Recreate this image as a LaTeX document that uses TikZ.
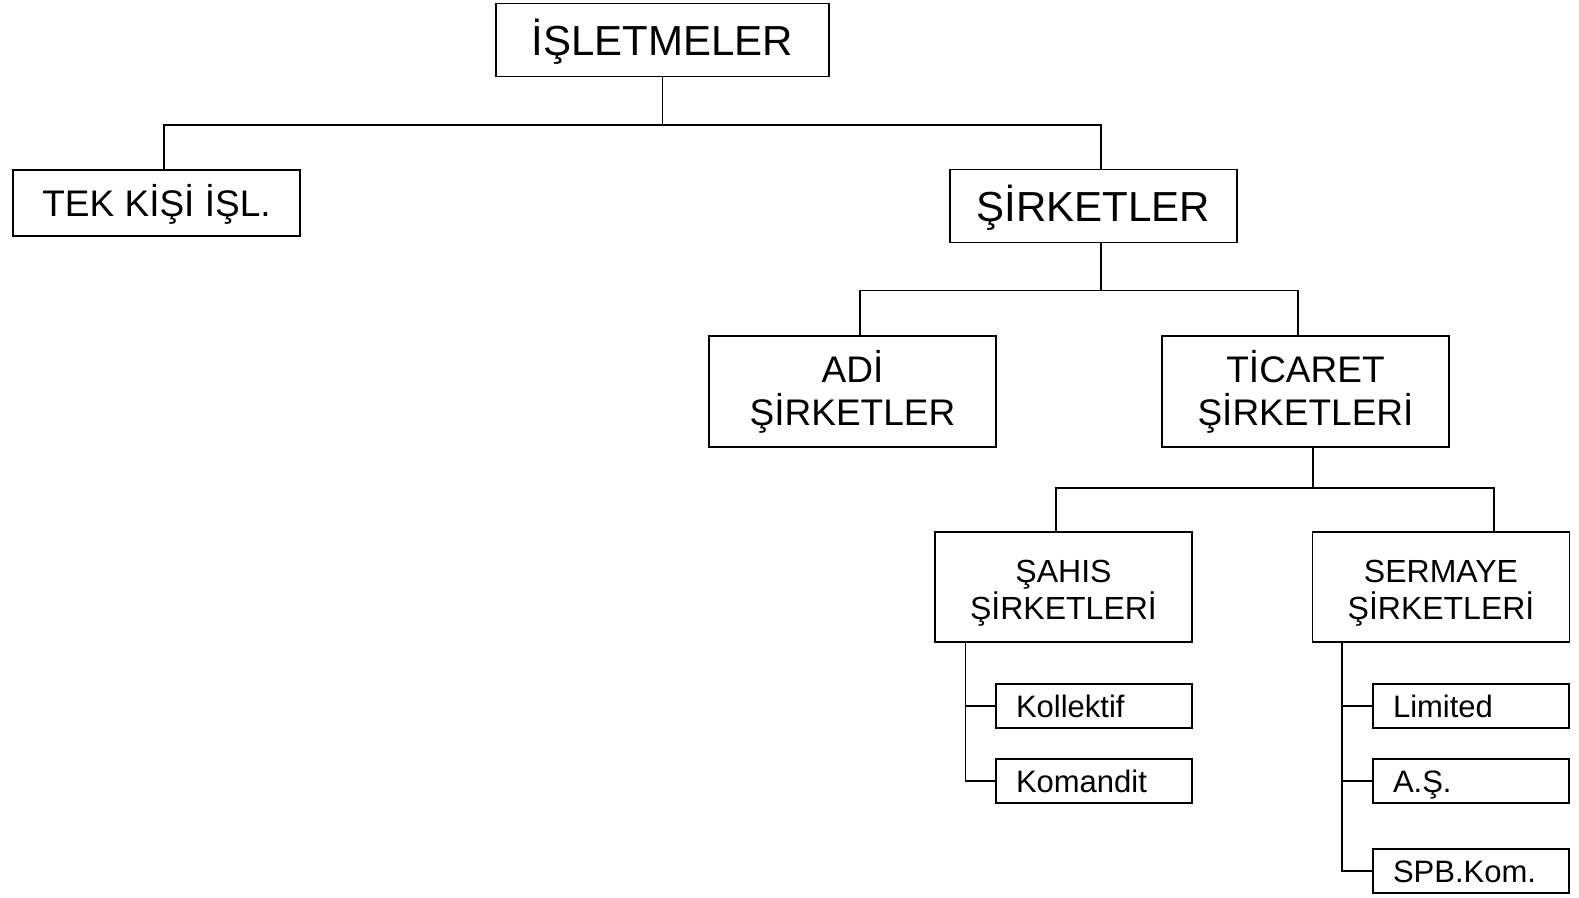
\documentclass[tikz,border=0pt]{standalone}
\usepackage{fontspec}
\setmainfont{Liberation Sans}
\usetikzlibrary{calc}
\tikzset{>=latex}

\begin{document}
\begin{tikzpicture}[x=1pt,y=-1pt,
                line width=1.5pt,
                box/.style={draw,inner sep=0pt,align=center},
                topbox/.style={box,minimum height=73pt,text height=30pt,text depth=0pt,font=\fontsize{42}{48}\selectfont},
                midbox/.style={box,minimum width=287pt,font=\fontsize{37}{43}\selectfont},
                subbox/.style={box,minimum width=257pt,minimum height=110pt,text height=72pt,text depth=8pt,
                    font=\fontsize{32}{37}\selectfont},
                leafbox/.style={box,align=left,text width=156pt,inner xsep=20pt,minimum height=44pt,
                    text height=22pt,text depth=0pt,font=\fontsize{31}{36}\selectfont}
            ]
            \useasboundingbox (0,0) rectangle (1579,897);
            \node[topbox,minimum width=333pt] (isl) at (662.5,40) {İŞLETMELER};
            \node[midbox,minimum height=66pt,text height=26.5pt,text depth=0pt] (tek) at (156.5,203) {TEK KİŞİ İŞL.};
            \node[topbox,minimum width=287pt] (sirk) at (1093.5,206) {ŞİRKETLER};
            \node[midbox,minimum height=111pt] (adi) at (852.5,391.5) {ADİ\\ŞİRKETLER};
            \node[midbox,minimum height=111pt] (tic) at (1305.5,391.5) {TİCARET\\ŞİRKETLERİ};
            \node[subbox] (sahis) at (1063.5,587) {ŞAHIS\\ŞİRKETLERİ};
            \node[subbox] (serm) at (1441,587) {SERMAYE\\ŞİRKETLERİ};
            \node[leafbox] (kol) at (1094,706) {Kollektif};
            \node[leafbox] (kom) at (1094,781) {Komandit};
            \node[leafbox] (lim) at (1471,706) {Limited};
            \node[leafbox] (as) at (1471,781) {A.Ş.};
            \node[leafbox] (spb) at (1471,871) {SPB.Kom.};

            \draw (isl.south) -- ++(0,47.5) coordinate (b1);
            \draw ([xshift=7.5pt]tek.north) |- (b1) -| ([xshift=7.5pt]sirk.north);
            \draw ([xshift=7.5pt]sirk.south) -- ++(0,47) coordinate (b2);
            \draw ([xshift=7.5pt]adi.north) |- (b2) -| ([xshift=-7.5pt]tic.north);
            \draw ([xshift=7.5pt]tic.south) -- ++(0,40) coordinate (b3);
            \draw ([xshift=-7.5pt]sahis.north) |- (b3) -| ([xshift=53pt]serm.north);

            \coordinate (sbar) at ([xshift=31pt]sahis.south west);
            \draw (sbar) |- (kom.west);
            \draw (kol.west) -- (kol.west -| sbar);
            \coordinate (mbar) at ([xshift=30pt]serm.south west);
            \draw (mbar) |- (spb.west);
            \draw (lim.west) -- (lim.west -| mbar);
            \draw (as.west) -- (as.west -| mbar);
        \end{tikzpicture}
\end{document}
